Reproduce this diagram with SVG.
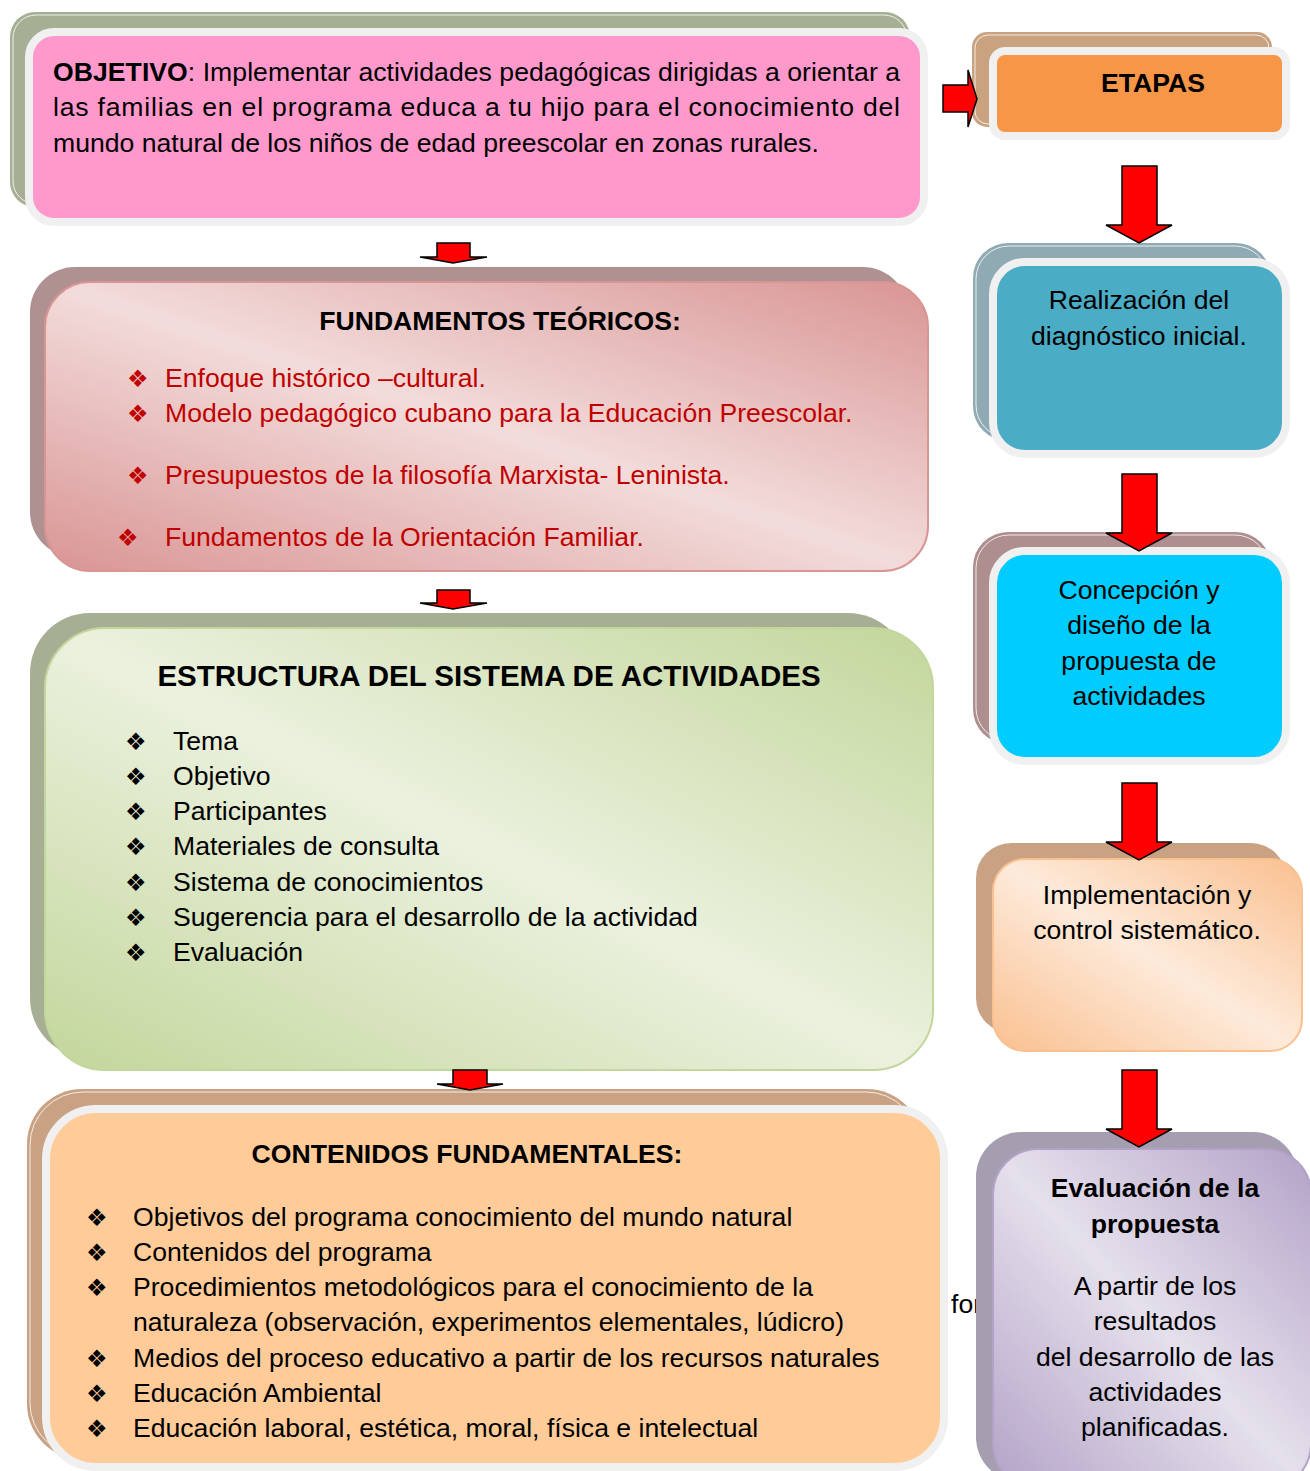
<svg xmlns="http://www.w3.org/2000/svg" width="1310" height="1471" viewBox="0 0 1310 1471">
<defs>
<linearGradient id="gPink" x1="1" y1="0" x2="0" y2="1"><stop offset="0" stop-color="#D99594"/><stop offset="0.5" stop-color="#F2DCDB"/><stop offset="1" stop-color="#D99594"/></linearGradient>
<linearGradient id="gGreen" x1="1" y1="0" x2="0" y2="1"><stop offset="0" stop-color="#C3D69B"/><stop offset="0.5" stop-color="#EBF1DE"/><stop offset="1" stop-color="#C3D69B"/></linearGradient>
<linearGradient id="gPeach" x1="1" y1="0" x2="0" y2="1"><stop offset="0" stop-color="#FAC090"/><stop offset="0.5" stop-color="#FDEADA"/><stop offset="1" stop-color="#FAC090"/></linearGradient>
<linearGradient id="gPurple" x1="1" y1="0" x2="0" y2="1"><stop offset="0" stop-color="#B3A2C7"/><stop offset="0.5" stop-color="#E5E0EC"/><stop offset="1" stop-color="#B3A2C7"/></linearGradient>
<style>
text{font-family:"Liberation Sans",Arial,sans-serif;font-size:26.6px;fill:#000}
.b{font-weight:bold}
.c{text-anchor:middle}
.red{fill:#C00000}
.bul{font-family:"DejaVu Sans",sans-serif;font-size:24px}
.frame{stroke:#F0F0F0;stroke-width:8}
.inl{fill:none;stroke:#FFFFFF;stroke-width:1;opacity:0.8}
.arr{fill:#FF0000;stroke:#000;stroke-width:1.5;stroke-linejoin:miter}
</style>
</defs>

<text x="951" y="1313">for</text>

<g id="objetivo">
<rect x="10" y="12" width="900" height="195" rx="25" fill="#A6AF93"/>
<rect x="13" y="15" width="894" height="189" rx="23" class="inl"/>
<rect x="29" y="32" width="895" height="190" rx="25" fill="#FF99CC" class="frame"/>
<text x="53" y="81" textLength="847" lengthAdjust="spacing"><tspan class="b">OBJETIVO</tspan>: Implementar actividades pedagógicas dirigidas a orientar a</text>
<text x="53" y="116" textLength="847" lengthAdjust="spacing">las familias en el programa educa a tu hijo para el conocimiento del</text>
<text x="53" y="152">mundo natural de los niños de edad preescolar en zonas rurales.</text>
</g>

<g id="fundamentos">
<rect x="30" y="267" width="878" height="290" rx="45" fill="#AF9191"/>
<rect x="45" y="282" width="883" height="289" rx="45" fill="url(#gPink)" stroke="#D99594" stroke-width="2"/>
<text x="500" y="330" class="b c">FUNDAMENTOS TEÓRICOS:</text>
<text x="127" y="387" class="bul red">❖</text>
<text x="165" y="387" class="red">Enfoque histórico –cultural.</text>
<text x="127" y="422" class="bul red">❖</text>
<text x="165" y="422" class="red">Modelo pedagógico cubano para la Educación Preescolar.</text>
<text x="127" y="484" class="bul red">❖</text>
<text x="165" y="484" class="red">Presupuestos de la filosofía Marxista- Leninista.</text>
<text x="117" y="546" class="bul red">❖</text>
<text x="165" y="546" class="red">Fundamentos de la Orientación Familiar.</text>
</g>

<g id="estructura">
<rect x="30" y="613" width="878" height="445" rx="60" fill="#A6AF93"/>
<rect x="45" y="628" width="888" height="442" rx="60" fill="url(#gGreen)" stroke="#C3D69B" stroke-width="2"/>
<text x="489" y="686" class="b c" style="font-size:29.5px">ESTRUCTURA DEL SISTEMA DE ACTIVIDADES</text>
<text x="125" y="750" class="bul">❖</text><text x="173" y="750">Tema</text>
<text x="125" y="785" class="bul">❖</text><text x="173" y="785">Objetivo</text>
<text x="125" y="820" class="bul">❖</text><text x="173" y="820">Participantes</text>
<text x="125" y="855" class="bul">❖</text><text x="173" y="855">Materiales de consulta</text>
<text x="125" y="891" class="bul">❖</text><text x="173" y="891">Sistema de conocimientos</text>
<text x="125" y="926" class="bul">❖</text><text x="173" y="926">Sugerencia para el desarrollo de la actividad</text>
<text x="125" y="961" class="bul">❖</text><text x="173" y="961">Evaluación</text>
</g>

<g id="contenidos">
<rect x="27" y="1089" width="895" height="370" rx="55" fill="#C9A284"/>
<rect x="30" y="1092" width="889" height="364" rx="53" class="inl"/>
<rect x="46" y="1109" width="898" height="358" rx="50" fill="#FFCC99" class="frame"/>
<text x="467" y="1163" class="b c">CONTENIDOS FUNDAMENTALES:</text>
<text x="86" y="1226" class="bul">❖</text><text x="133" y="1226">Objetivos del programa conocimiento del mundo natural</text>
<text x="86" y="1261" class="bul">❖</text><text x="133" y="1261">Contenidos del programa</text>
<text x="86" y="1296" class="bul">❖</text><text x="133" y="1296">Procedimientos metodológicos para el conocimiento de la</text>
<text x="133" y="1331">naturaleza (observación, experimentos elementales, lúdicro)</text>
<text x="86" y="1367" class="bul">❖</text><text x="133" y="1367">Medios del proceso educativo a partir de los recursos naturales</text>
<text x="86" y="1402" class="bul">❖</text><text x="133" y="1402">Educación Ambiental</text>
<text x="86" y="1437" class="bul">❖</text><text x="133" y="1437">Educación laboral, estética, moral, física e intelectual</text>
</g>

<g id="etapas">
<rect x="972" y="32" width="300" height="95" rx="15" fill="#C9A27F"/>
<rect x="975" y="35" width="294" height="89" rx="13" class="inl"/>
<rect x="993" y="51" width="293" height="85" rx="12" fill="#F79646" class="frame"/>
<text x="1153" y="92" class="b c">ETAPAS</text>
</g>

<g id="diagnostico">
<rect x="973" y="243" width="298" height="198" rx="35" fill="#8FAAB3"/>
<rect x="976" y="246" width="292" height="192" rx="33" class="inl"/>
<rect x="993" y="262" width="293" height="192" rx="32" fill="#4BACC6" class="frame"/>
<text x="1139" y="309" class="c">Realización del</text>
<text x="1139" y="345" class="c">diagnóstico inicial.</text>
</g>

<g id="concepcion">
<rect x="973" y="532" width="298" height="212" rx="35" fill="#AE8E8E"/>
<rect x="976" y="535" width="292" height="206" rx="33" class="inl"/>
<rect x="993" y="551" width="293" height="210" rx="32" fill="#00CCFF" class="frame"/>
<text x="1139" y="599" class="c">Concepción y</text>
<text x="1139" y="634" class="c">diseño de la</text>
<text x="1139" y="670" class="c">propuesta de</text>
<text x="1139" y="705" class="c">actividades</text>
</g>

<g id="implementacion">
<rect x="976" y="843" width="310" height="190" rx="35" fill="#C9A284"/>
<rect x="993" y="859" width="309" height="192" rx="32" fill="url(#gPeach)" stroke="#FAC090" stroke-width="2"/>
<text x="1147" y="904" class="c">Implementación y</text>
<text x="1147" y="939" class="c">control sistemático.</text>
</g>

<g id="evaluacion">
<rect x="976" y="1132" width="322" height="350" rx="45" fill="#A59DB0"/>
<rect x="993" y="1149" width="318" height="340" rx="45" fill="url(#gPurple)" stroke="#B3A2C7" stroke-width="2"/>
<text x="1155" y="1197" class="b c">Evaluación de la</text>
<text x="1155" y="1233" class="b c">propuesta</text>
<text x="1155" y="1295" class="c">A partir de los</text>
<text x="1155" y="1330" class="c">resultados</text>
<text x="1155" y="1366" class="c">del desarrollo de las</text>
<text x="1155" y="1401" class="c">actividades</text>
<text x="1155" y="1436" class="c">planificadas.</text>
</g>

<g id="connectors">
<polygon class="arr" points="437,243 470,243 470,257 487,257 453,263 420,257 437,257"/>
<polygon class="arr" points="437,590 470,590 470,603 487,603 453,609 420,603 437,603"/>
<polygon class="arr" points="453,1070 487,1070 487,1084 503,1084 470,1090 437,1084 453,1084"/>
<polygon class="arr" points="943,85 968,85 968,70 977,99 968,127 968,112 943,112"/>
<polygon class="arr" points="1122,166 1157,166 1157,225 1172,225 1139,243 1106,225 1122,225"/>
<polygon class="arr" points="1122,474 1157,474 1157,533 1172,533 1139,551 1106,533 1122,533"/>
<polygon class="arr" points="1122,783 1157,783 1157,842 1172,842 1139,860 1106,842 1122,842"/>
<polygon class="arr" points="1122,1070 1157,1070 1157,1129 1172,1129 1139,1147 1106,1129 1122,1129"/>
</g>
</svg>
